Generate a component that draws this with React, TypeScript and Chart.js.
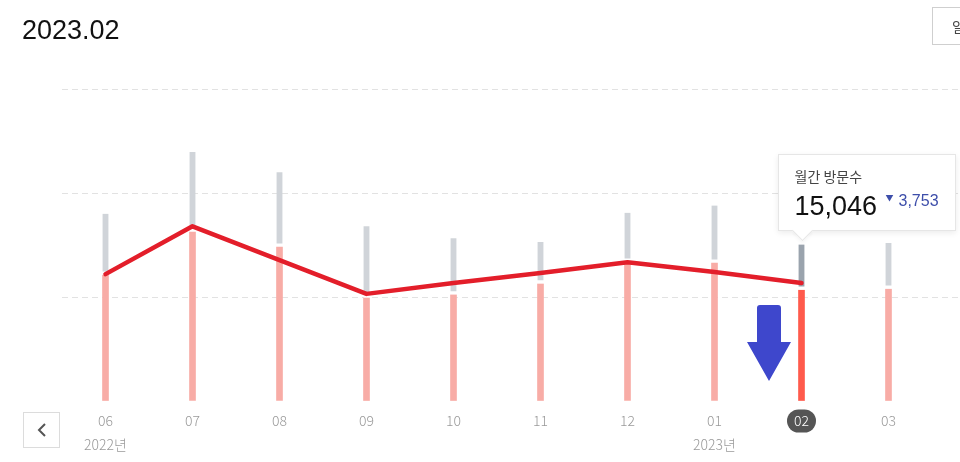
import { useEffect, useRef, useState } from 'react'
import { Chart, registerables } from 'chart.js'
import type { Plugin } from 'chart.js'

Chart.register(...registerables)

// months shown in the slider (Jun 2022 .. Mar 2023)
const months = ['06', '07', '08', '09', '10', '11', '12', '01', '02', '03']
const yearLabels = ['2022년', '', '', '', '', '', '', '2023년', '', '']
// total monthly visits (top of the grey segment)
const monthlyVisits = [18000, 23950, 22000, 16800, 15650, 15300, 18100, 18799, 15046, 15200]
// lower (pink) segment
const baseVisits = [12100, 16250, 14800, 9900, 10200, 11250, 13350, 13250, 10650, 10750]
// red trend line
const trendValues = [12200, 16800, 13550, 10300, 11350, 12300, 13350, 12400, 11350, null]
const yMax = 30000
const yStep = 10000
const selected = 8

const KR_FONT = '"Noto Sans CJK KR", "Noto Sans", sans-serif'
const TICK_PAD = 0
const TICK_LEN = 8 // x grid tick length still reserves space
const TICK_LINE = 24

const extendGrid: Plugin = {
  id: 'extendGrid',
  beforeDatasetsDraw(chart) {
    const { ctx, chartArea, scales } = chart
    const y = scales.y
    ctx.save()
    ctx.strokeStyle = '#e2e2e2'
    ctx.lineWidth = 1
    ctx.setLineDash([6, 4])
    y.ticks.forEach(t => {
      if (t.value === 0) return
      const py = Math.round(y.getPixelForValue(t.value)) + 0.5
      ctx.beginPath()
      ctx.moveTo(chartArea.right, py)
      ctx.lineTo(chart.width, py)
      ctx.stroke()
    })
    ctx.restore()
  },
}

const selectedPill: Plugin = {
  id: 'selectedPill',
  beforeDraw(chart) {
    const { ctx, scales } = chart
    const x = scales.x
    const cx = x.getPixelForTick(selected)
    const cy = x.top + TICK_LEN + TICK_PAD + TICK_LINE / 2
    const w = 29, h = 23, r = 11.5
    ctx.save()
    ctx.fillStyle = '#555555'
    ctx.beginPath()
    ctx.roundRect(cx - w / 2, cy - h / 2, w, h, r)
    ctx.fill()
    ctx.restore()
  },
}

function Arrow() {
  return (
    <svg width="60" height="90" style={{ position: 'absolute', left: 740, top: 300 }}>
      <path
        d="M17 8 Q17 5 20 5 L38 5 Q41 5 41 8 L41 42 L51 42 L29 81 L7 42 L17 42 Z"
        fill="#3e47cc"
      />
    </svg>
  )
}

export default function App() {
  const canvasRef = useRef<HTMLCanvasElement>(null)
  const chartRef = useRef<Chart | null>(null)
  const [anchor, setAnchor] = useState<{ x: number; y: number } | null>(null)

  useEffect(() => {
    if (!canvasRef.current) return
    chartRef.current?.destroy()

    const labels = months.map((m, i) => (yearLabels[i] ? [m, yearLabels[i]] : m))
    const pink = months.map((_, i) => (i === selected ? '#ff5a4c' : '#f8aca6'))
    const grey = months.map((_, i) => (i === selected ? '#9aa3ad' : '#d0d4d9'))

    const chart = new Chart(canvasRef.current, {
      type: 'bar',
      data: {
        labels,
        datasets: [
          {
            type: 'line',
            label: 'trend',
            data: trendValues,
            borderColor: '#e31e2a',
            borderWidth: 4.5,
            borderCapStyle: 'round',
            borderJoinStyle: 'round',
            pointRadius: 0,
            tension: 0,
            stack: 'trend',
            order: 0,
          },
          {
            label: 'base',
            data: baseVisits,
            backgroundColor: pink,
            barThickness: 6,
            stack: 'visits',
            order: 1,
          },
          {
            label: 'rest',
            data: monthlyVisits.map((v, i) => v - baseVisits[i]),
            backgroundColor: grey,
            borderColor: '#ffffff',
            borderWidth: { top: 0, left: 0, right: 0, bottom: 4 },
            borderSkipped: false,
            barThickness: 6,
            stack: 'visits',
            order: 1,
          },
        ],
      },
      options: {
        animation: false,
        responsive: true,
        maintainAspectRatio: false,
        layout: { padding: { left: 62, right: 28, top: 89, bottom: 13 } },
        plugins: {
          legend: { display: false },
          tooltip: { enabled: false },
        },
        scales: {
          x: {
            stacked: true,
            grid: { display: false, tickLength: TICK_LEN },
            border: { display: false },
            ticks: {
              autoSkip: false,
              maxRotation: 0,
              padding: TICK_PAD,
              color: ctx => (ctx.index === selected ? '#ffffff' : '#9a9a9a'),
              font: { family: KR_FONT, size: 14, weight: 300, lineHeight: TICK_LINE + 'px' },
            },
          },
          y: {
            stacked: true,
            min: 0,
            max: yMax,
            ticks: { display: false, stepSize: yStep },
            grid: {
              drawTicks: false,
              color: ctx => (ctx.tick && ctx.tick.value === 0 ? 'rgba(0,0,0,0)' : '#e2e2e2'),
            },
            border: { display: false, dash: [6, 4] },
          },
        },
      },
      plugins: [extendGrid, selectedPill],
    })
    chartRef.current = chart

    setAnchor({
      x: chart.scales.x.getPixelForValue(selected),
      y: chart.scales.y.getPixelForValue(monthlyVisits[selected]),
    })

    return () => chartRef.current?.destroy()
  }, [])

  const total = monthlyVisits[selected]
  const change = monthlyVisits[selected - 1] - total

  return (
    <div style={{ position: 'fixed', left: 0, top: 0, width: 960, height: 462, overflow: 'hidden', background: '#fff' }}>
      <div style={{ position: 'absolute', left: 0, top: 0, width: 960, height: 470 }}>
        <canvas ref={canvasRef} />
      </div>

      <div
        style={{
          position: 'absolute', left: 22, top: 17, fontFamily: '"Liberation Sans", Arial, sans-serif',
          fontSize: 27, lineHeight: '27px', color: '#111',
        }}
      >
        2023.02
      </div>

      <div
        style={{
          position: 'absolute', left: 932, top: 7, width: 70, height: 38, boxSizing: 'border-box',
          border: '1px solid #cfcfcf', fontFamily: KR_FONT, fontSize: 14, color: '#444',
          lineHeight: '36px', paddingLeft: 19,
        }}
      >
        일간
      </div>

      <div
        style={{
          position: 'absolute', left: 23, top: 412, width: 37, height: 36, boxSizing: 'border-box',
          border: '1px solid #dcdcdc', background: '#fff',
        }}
      >
        <svg width="35" height="34" style={{ position: 'absolute', left: 0, top: 0 }}>
          <polyline points="21,11 15,17 21,23" fill="none" stroke="#555" strokeWidth="2" />
        </svg>
      </div>

      <Arrow />

      {anchor && (
        <div
          style={{
            position: 'absolute', left: anchor.x - 24, top: anchor.y - 91, width: 178, height: 77,
            boxSizing: 'border-box', background: '#fff', border: '1px solid #e6e6e6',
            boxShadow: '0 2px 6px rgba(0,0,0,0.08)', fontFamily: KR_FONT,
          }}
        >
          <div style={{ position: 'absolute', left: 16, top: 13, fontSize: 14, color: '#444', lineHeight: '16px' }}>
            월간 방문수
          </div>
          <div
            style={{
              position: 'absolute', left: 16, top: 36, fontSize: 27, lineHeight: '30px', color: '#111',
              fontFamily: '"Liberation Sans", Arial, sans-serif',
            }}
          >
            {total.toLocaleString('en-US')}
          </div>
          <div style={{ position: 'absolute', left: 107, top: 38, fontSize: 8, color: '#3d4eaa', lineHeight: '10px' }}>
            ▼
          </div>
          <div
            style={{
              position: 'absolute', left: 120, top: 37, fontSize: 16, lineHeight: '18px', color: '#3d4eaa',
              fontFamily: '"Liberation Sans", Arial, sans-serif',
            }}
          >
            {change.toLocaleString('en-US')}
          </div>
          <div
            style={{
              position: 'absolute', left: 16, bottom: -8, width: 14, height: 14, background: '#fff',
              borderRight: '1px solid #e6e6e6', borderBottom: '1px solid #e6e6e6',
              transform: 'rotate(45deg)', boxShadow: '2px 2px 3px rgba(0,0,0,0.04)',
            }}
          />
        </div>
      )}
    </div>
  )
}
